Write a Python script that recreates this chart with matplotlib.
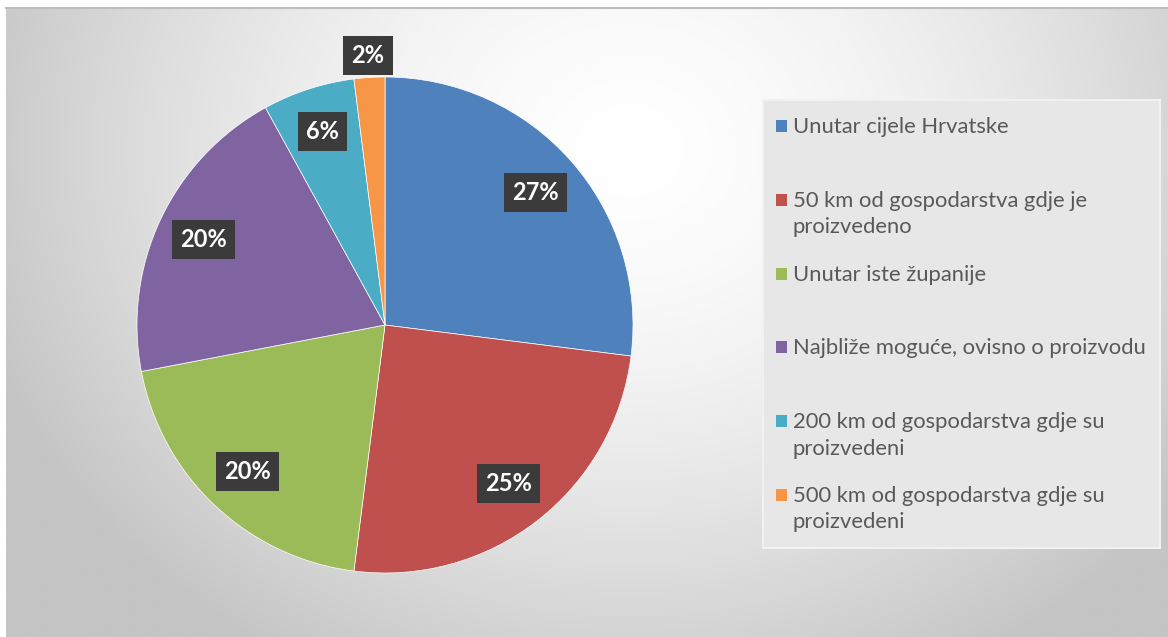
import textwrap
import numpy as np
import matplotlib
matplotlib.use("Agg")
import matplotlib.pyplot as plt
from matplotlib.patches import Rectangle

# Survey shares: how far the products should travel to be considered local
categories = [
    "Unutar cijele Hrvatske",
    "50 km od gospodarstva gdje je proizvedeno",
    "Unutar iste županije",
    "Najbliže moguće, ovisno o proizvodu",
    "200 km od gospodarstva gdje su proizvedeni",
    "500 km od gospodarstva gdje su proizvedeni",
]
shares = [27, 25, 20, 20, 6, 2]
colors = ["#4F81BD", "#C0504D", "#9BBB59", "#8064A2", "#4BACC6", "#F79646"]
label_radius = [0.81, 0.81, 0.81, 0.81, 0.82, 1.09]

W, H = 1168, 637
DPI = 100
fig = plt.figure(figsize=(W / DPI, H / DPI), dpi=DPI)
fig.patch.set_facecolor("white")


def fx(px):
    return px / W


def fy(py):
    return 1 - py / H


# Chart-area background: soft radial gradient, white near the top centre
bg = fig.add_axes([fx(6), 0, 1 - fx(6), fy(7)], zorder=0)
bg.set_axis_off()
gx = np.linspace(6, W, 600)
gy = np.linspace(7, H, 330)
X, Y = np.meshgrid(gx, gy)
t = np.sqrt(((X - 630) / 680) ** 2 + ((Y - 150) / 590) ** 2)
t = np.clip(t, 0, 1) ** 1.6
shade = 255 - (255 - 197) * t
img = np.dstack([shade, shade, shade]) / 255.0
bg.imshow(img, extent=[0, 1, 0, 1], aspect="auto", origin="upper",
          interpolation="bilinear")
bg.set_xlim(0, 1)
bg.set_ylim(0, 1)
fig.add_artist(plt.Line2D([fx(6), 1], [fy(7.5), fy(7.5)], color="#bdbdbd",
                          lw=1.5, transform=fig.transFigure, zorder=1))

# Pie
cx, cy, r = 385, 325, 248
ax = fig.add_axes([fx(cx - r), fy(cy + r), 2 * r / W, 2 * r / H], zorder=2)
wedges, _ = ax.pie(shares, colors=colors, startangle=90, counterclock=False,
                   radius=1.0, wedgeprops=dict(edgecolor="white", linewidth=0.5))
ax.set_xlim(-1, 1)
ax.set_ylim(-1, 1)
ax.set_aspect("equal")

for w, val, d in zip(wedges, shares, label_radius):
    ang = np.deg2rad((w.theta1 + w.theta2) / 2)
    ax.text(d * np.cos(ang), d * np.sin(ang), f"{val}%", ha="center",
            va="center", fontsize=17, fontweight="bold", color="white",
            family="Lato", clip_on=False, zorder=5,
            bbox=dict(boxstyle="square,pad=0.34", facecolor="#3b3b3b",
                      edgecolor="none"))

# Legend panel
fig.add_artist(Rectangle((fx(763), fy(548)), fx(1160) - fx(763),
                         fy(100) - fy(548), transform=fig.transFigure,
                         facecolor="#e7e7e7", edgecolor="#f1f1f1", lw=1.5,
                         zorder=3))
first_baseline = 133
step = 73.8
line_gap = 26.5
for i, (name, col) in enumerate(zip(categories, colors)):
    base = first_baseline + i * step
    fig.add_artist(Rectangle((fx(776), fy(base - 1)), fx(11), fy(0) - fy(12),
                             transform=fig.transFigure, facecolor=col,
                             edgecolor="none", zorder=4))
    for j, line in enumerate(textwrap.wrap(name, width=35)):
        fig.text(fx(793), fy(base + j * line_gap), line, ha="left",
                 va="baseline", fontsize=15.8, color="#595959", family="Lato",
                 zorder=5)

fig.savefig("out.png", dpi=DPI)
